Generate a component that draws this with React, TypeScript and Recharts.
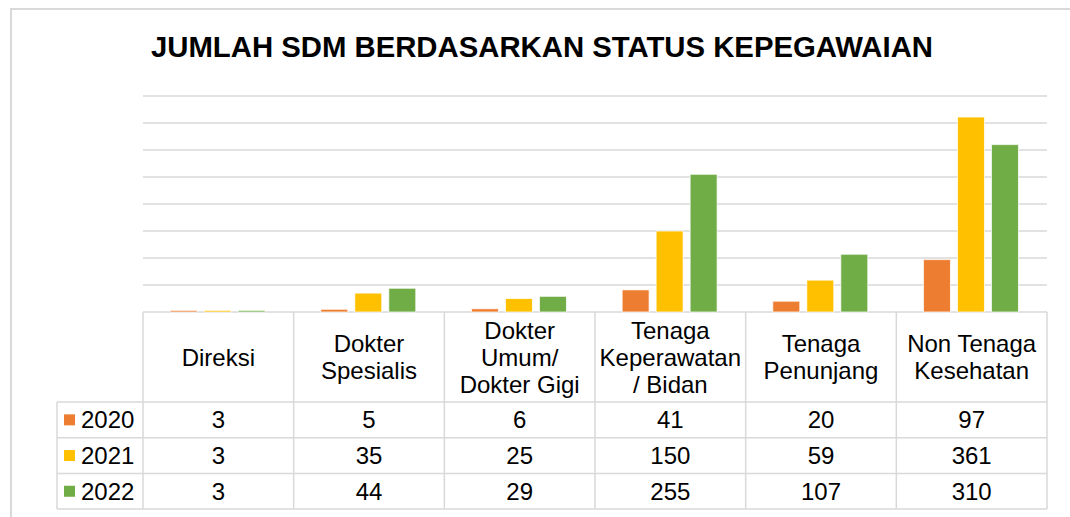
import { BarChart, Bar, XAxis, YAxis, CartesianGrid } from "recharts";

const CATEGORIES = [
  "Direksi",
  "Dokter Spesialis",
  "Dokter Umum/ Dokter Gigi",
  "Tenaga Keperawatan / Bidan",
  "Tenaga Penunjang",
  "Non Tenaga Kesehatan",
];
const HEADER_LINES = [
  ["Direksi"],
  ["Dokter", "Spesialis"],
  ["Dokter", "Umum/", "Dokter Gigi"],
  ["Tenaga", "Keperawatan", "/ Bidan"],
  ["Tenaga", "Penunjang"],
  ["Non Tenaga", "Kesehatan"],
];
const YEARS = ["2020", "2021", "2022"];
const SDM_2020 = [3, 5, 6, 41, 20, 97];
const SDM_2021 = [3, 35, 25, 150, 59, 361];
const SDM_2022 = [3, 44, 29, 255, 107, 310];
const Y_TICKS = [0, 50, 100, 150, 200, 250, 300, 350, 400];

const COLORS = ["#ED7D31", "#FFC000", "#70AD47"];
const GRID = "#d9d9d9";
const FONT = "'Liberation Sans', Arial, sans-serif";

const W = 1070;
const H = 517;
const MARGIN = { top: 96, right: 23, left: 143, bottom: 8 };
const AXIS_H = 197;
const BAND = (W - MARGIN.left - MARGIN.right) / CATEGORIES.length;
const PLOT_BOTTOM = H - MARGIN.bottom - AXIS_H;
const HEADER_BOTTOM = 402;
const ROW_H = 35.7;
const TABLE_LEFT = 57;

const data = CATEGORIES.map((name, i) => ({
  name,
  y2020: SDM_2020[i],
  y2021: SDM_2021[i],
  y2022: SDM_2022[i],
}));
const series = [SDM_2020, SDM_2021, SDM_2022];

function TableCell(props: any) {
  const { x, payload } = props;
  const i = payload.index;
  const left = x - BAND / 2;
  const right = x + BAND / 2;
  const lines = HEADER_LINES[i];
  const headerMid = (PLOT_BOTTOM + HEADER_BOTTOM) / 2;
  const rowLines = [0, 1, 2, 3].map((r) => HEADER_BOTTOM + r * ROW_H);
  const txt = { fontFamily: FONT, fontSize: 24, fill: "#000", dominantBaseline: "central" as const };

  return (
    <g>
      {i === 0 && (
        <g>
          <line x1={left} y1={PLOT_BOTTOM} x2={left} y2={rowLines[3]} stroke={GRID} strokeWidth={1.5} />
          <line x1={TABLE_LEFT} y1={HEADER_BOTTOM} x2={TABLE_LEFT} y2={rowLines[3]} stroke={GRID} strokeWidth={1.5} />
          {rowLines.map((y) => (
            <line key={y} x1={TABLE_LEFT} y1={y} x2={left} y2={y} stroke={GRID} strokeWidth={1.5} />
          ))}
          {YEARS.map((yr, r) => (
            <g key={yr}>
              <rect x={64} y={HEADER_BOTTOM + r * ROW_H + ROW_H / 2 - 5.5} width={11} height={11} fill={COLORS[r]} />
              <text x={81} y={HEADER_BOTTOM + r * ROW_H + ROW_H / 2} {...txt}>
                {yr}
              </text>
            </g>
          ))}
        </g>
      )}
      <line x1={right} y1={PLOT_BOTTOM} x2={right} y2={rowLines[3]} stroke={GRID} strokeWidth={1.5} />
      {rowLines.map((y) => (
        <line key={y} x1={left} y1={y} x2={right} y2={y} stroke={GRID} strokeWidth={1.5} />
      ))}
      {lines.map((ln, k) => (
        <text
          key={k}
          x={x}
          y={headerMid + (k - (lines.length - 1) / 2) * 27}
          textAnchor="middle"
          {...txt}
        >
          {ln}
        </text>
      ))}
      {series.map((s, r) => (
        <text key={r} x={x} y={HEADER_BOTTOM + r * ROW_H + ROW_H / 2} textAnchor="middle" {...txt}>
          {s[i]}
        </text>
      ))}
    </g>
  );
}

export default function App() {
  return (
    <div style={{ position: "absolute", left: 0, top: 0, width: W, height: H, background: "#fff" }}>
      <BarChart
        width={W}
        height={H}
        data={data}
        margin={MARGIN}
        barCategoryGap="18%"
        barGap={7}
      >
        <CartesianGrid vertical={false} stroke={GRID} strokeWidth={1.5} />
        <YAxis hide width={0} domain={[0, 400]} ticks={Y_TICKS} />
        <XAxis
          dataKey="name"
          height={AXIS_H}
          interval={0}
          tickLine={false}
          axisLine={false}
          tick={TableCell}
        />
        <Bar dataKey="y2020" name="2020" fill={COLORS[0]} stroke="#fff" strokeWidth={0.75} isAnimationActive={false} />
        <Bar dataKey="y2021" name="2021" fill={COLORS[1]} stroke="#fff" strokeWidth={0.75} isAnimationActive={false} />
        <Bar dataKey="y2022" name="2022" fill={COLORS[2]} stroke="#fff" strokeWidth={0.75} isAnimationActive={false} />
      </BarChart>
      <svg
        width={W}
        height={H}
        style={{ position: "absolute", left: 0, top: 0, pointerEvents: "none" }}
      >
        <path d={`M 11 ${H} V 9 H ${W}`} fill="none" stroke={GRID} strokeWidth={2} />
        <text
          x={151}
          y={57}
          fontFamily={FONT}
          fontWeight="bold"
          fontSize={29}
          fill="#000"
          textLength={782}
          lengthAdjust="spacingAndGlyphs"
        >
          JUMLAH SDM BERDASARKAN STATUS KEPEGAWAIAN
        </text>
      </svg>
    </div>
  );
}
